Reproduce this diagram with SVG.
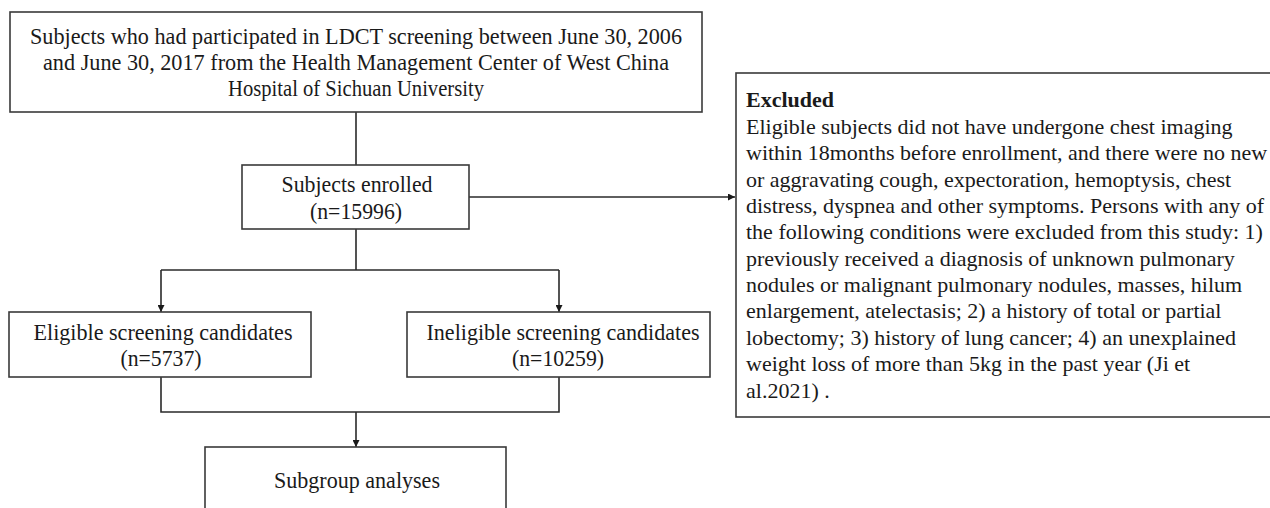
<svg xmlns="http://www.w3.org/2000/svg" width="1270" height="508" viewBox="0 0 1270 508">
<defs>
<style>
.box{fill:#fff;stroke:#3a3a3a;stroke-width:1.6}
.t{font-family:"Liberation Serif","Times New Roman",serif;font-size:22px;fill:#1a1a1a}
.n{font-size:23.5px}
.c{text-anchor:middle}
.b{font-weight:bold}
.ln{fill:none;stroke:#2a2a2a;stroke-width:1.6}
</style>
<marker id="ah" viewBox="0 0 10 10" refX="10" refY="5" markerWidth="7" markerHeight="7" orient="auto" markerUnits="userSpaceOnUse">
<path d="M0,0 L10,5 L0,10 z" fill="#1a1a1a"/>
</marker>
</defs>
<rect width="1270" height="508" fill="#fff"/>
<g id="connectors">
<path class="ln" d="M356,112 V165"/>
<path class="ln" d="M469,197 H735" marker-end="url(#ah)"/>
<path class="ln" d="M356,229 V270 M161,270 H559"/>
<path class="ln" d="M161,270 V312" marker-end="url(#ah)"/>
<path class="ln" d="M559,270 V312" marker-end="url(#ah)"/>
<path class="ln" d="M161,377 V412 H559 V377"/>
<path class="ln" d="M356,412 V447" marker-end="url(#ah)"/>
</g>
<g id="n-source">
<rect class="box" x="10" y="12" width="692" height="100"/>
<text class="t n c" x="356" y="44" textLength="652" lengthAdjust="spacingAndGlyphs">Subjects who had participated in LDCT screening between June 30, 2006</text>
<text class="t n c" x="356" y="70" textLength="626" lengthAdjust="spacingAndGlyphs">and June 30, 2017 from the Health Management Center of West China</text>
<text class="t n c" x="356" y="96" textLength="256" lengthAdjust="spacingAndGlyphs">Hospital of Sichuan University</text>
</g>
<g id="n-enrolled">
<rect class="box" x="242" y="165" width="227" height="64"/>
<text class="t n c" x="357" y="192" textLength="151" lengthAdjust="spacingAndGlyphs">Subjects enrolled</text>
<text class="t n c" x="356" y="219" textLength="92" lengthAdjust="spacingAndGlyphs">(n=15996)</text>
</g>
<g id="n-excluded">
<rect class="box" x="736" y="73" width="540" height="344"/>
<text class="t b" x="746" y="107">Excluded</text>
<text class="t" x="746" y="134">Eligible subjects did not have undergone chest imaging</text>
<text class="t" x="746" y="160">within 18months before enrollment, and there were no new</text>
<text class="t" x="746" y="187">or aggravating cough, expectoration, hemoptysis, chest</text>
<text class="t" x="746" y="213">distress, dyspnea and other symptoms. Persons with any of</text>
<text class="t" x="746" y="239">the following conditions were excluded from this study: 1)</text>
<text class="t" x="746" y="266">previously received a diagnosis of unknown pulmonary</text>
<text class="t" x="746" y="292">nodules or malignant pulmonary nodules, masses, hilum</text>
<text class="t" x="746" y="318">enlargement, atelectasis; 2) a history of total or partial</text>
<text class="t" x="746" y="345">lobectomy; 3) history of lung cancer; 4) an unexplained</text>
<text class="t" x="746" y="371">weight loss of more than 5kg in the past year (Ji et</text>
<text class="t" x="746" y="398">al.2021) .</text>
</g>
<g id="n-eligible">
<rect class="box" x="9" y="312" width="302" height="65"/>
<text class="t n c" x="163" y="340" textLength="259" lengthAdjust="spacingAndGlyphs">Eligible screening candidates</text>
<text class="t n c" x="161" y="366" textLength="81" lengthAdjust="spacingAndGlyphs">(n=5737)</text>
</g>
<g id="n-ineligible">
<rect class="box" x="407" y="312" width="303" height="65"/>
<text class="t n c" x="563" y="340" textLength="273" lengthAdjust="spacingAndGlyphs">Ineligible screening candidates</text>
<text class="t n c" x="558" y="366" textLength="92" lengthAdjust="spacingAndGlyphs">(n=10259)</text>
</g>
<g id="n-subgroup">
<rect class="box" x="205" y="447" width="301" height="80"/>
<text class="t n c" x="357" y="488" textLength="166" lengthAdjust="spacingAndGlyphs">Subgroup analyses</text>
</g>
</svg>
